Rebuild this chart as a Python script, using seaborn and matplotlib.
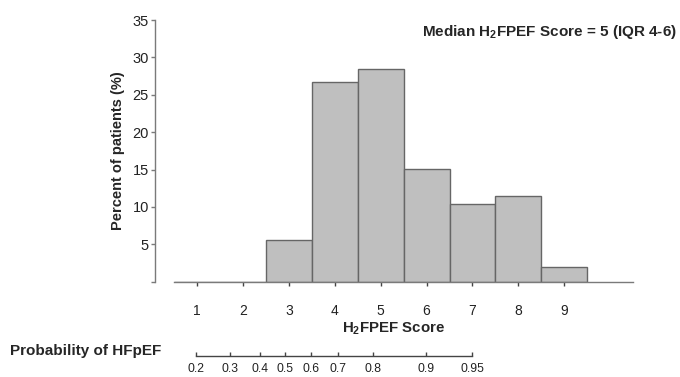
import matplotlib
matplotlib.use('Agg')
import matplotlib.pyplot as plt
import pandas as pd
import seaborn as sns

# H2FPEF score distribution (percent of patients per score)
scores = [1, 2, 3, 4, 5, 6, 7, 8, 9]
percents = [0, 0, 5.6, 26.7, 28.5, 15.1, 10.4, 11.4, 1.9]

# probability of HFpEF scale shown under the score axis
prob_labels = ['0.2', '0.3', '0.4', '0.5', '0.6', '0.7', '0.8', '0.9', '0.95']
prob_score_equiv = [0.98, 1.72, 2.36, 2.91, 3.48, 4.08, 4.83, 5.98, 6.99]

y_ticks = [0, 5, 10, 15, 20, 25, 30, 35]

df = pd.DataFrame({'score': scores, 'percent': percents})

sns.set_style('white')
plt.rcParams['font.family'] = ['Liberation Sans', 'DejaVu Sans']
plt.rcParams['mathtext.fontset'] = 'custom'
plt.rcParams['mathtext.bf'] = 'Liberation Sans:bold'
plt.rcParams['mathtext.rm'] = 'Liberation Sans'

W, H = 680, 377
fig = plt.figure(figsize=(W / 100, H / 100), dpi=100)
ax = fig.add_axes([155 / W, 1 - 281.7 / H, (633 - 155) / W, (281.7 - 20) / H])

sns.histplot(data=df, x='score', weights='percent', discrete=True,
             color='#bfbfbf', edgecolor='#666666', linewidth=1.0, alpha=1,
             ax=ax)

ax.set_xlim(0.08, 10.5)
ax.set_ylim(0, 35)
spine_col = '#7a7a7a'
for s in ['top', 'right']:
    ax.spines[s].set_visible(False)
for s in ['left', 'bottom']:
    ax.spines[s].set_color(spine_col)
    ax.spines[s].set_linewidth(1.0)
ax.spines['bottom'].set_bounds(0.5, 10.5)
ax.spines['left'].set_bounds(0, 35)

ax.set_xticks(scores)
ax.set_xticklabels([str(s) for s in scores])
ax.set_yticks(y_ticks)
ax.set_yticklabels(['' if t == 0 else str(t) for t in y_ticks])
ax.tick_params(axis='x', direction='out', length=3, width=1, color='#444444',
               labelsize=10, labelcolor='#222222', pad=13, bottom=True)
ax.tick_params(axis='y', direction='out', length=3, width=1, color=spine_col,
               labelsize=10.5, labelcolor='#222222', pad=1.5, left=True)

ax.set_ylabel('Percent of patients (%)', fontsize=10.5, fontweight='bold',
              labelpad=5)
ax.set_xlabel(r'H$_{\mathbf{2}}$FPEF Score', fontsize=10.8, fontweight='bold',
              labelpad=1.5)

fig.text(677 / W, 1 - 32 / H, r'Median H$_{\mathbf{2}}$FPEF Score = 5 (IQR 4-6)',
         ha='right', va='center', fontsize=11, fontweight='bold')

# probability axis
ax2 = fig.add_axes([155 / W, 1 - 356 / H, (633 - 155) / W, 0.001])
ax2.set_xlim(0.08, 10.5)
ax2.set_ylim(0, 1)
for s in ['top', 'right', 'left']:
    ax2.spines[s].set_visible(False)
ax2.spines['bottom'].set_bounds(prob_score_equiv[0], prob_score_equiv[-1])
ax2.spines['bottom'].set_color('#444444')
ax2.spines['bottom'].set_linewidth(1.0)
ax2.set_yticks([])
ax2.set_xticks(prob_score_equiv)
ax2.set_xticklabels(prob_labels)
ax2.tick_params(axis='x', direction='in', length=3, width=1, color='#444444',
                labelsize=8.7, labelcolor='#222222', pad=5, bottom=True)

fig.text(10 / W, 1 - 351 / H, 'Probability of HFpEF', ha='left', va='center',
         fontsize=11, fontweight='bold')

fig.savefig('out.png', dpi=100)
